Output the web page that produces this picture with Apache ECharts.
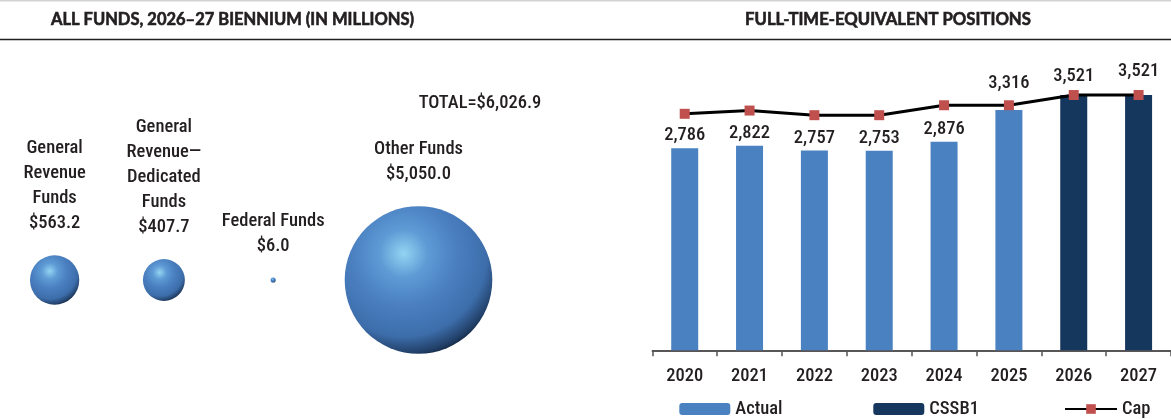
<!DOCTYPE html>
<html>
<head>
<meta charset="utf-8">
<script src="https://cdn.jsdelivr.net/npm/echarts@6/dist/echarts.min.js"></script>
<style>
  html, body { margin: 0; padding: 0; background: #ffffff; }
  #chart { width: 1171px; height: 419px; }
</style>
</head>
<body>
<div id="chart"></div>
<script>
// ---------------- DATA ----------------
const leftTitle = 'ALL FUNDS, 2026–27 BIENNIUM (IN MILLIONS)';
const rightTitle = 'FULL-TIME-EQUIVALENT POSITIONS';

const fundNames = ['General\nRevenue\nFunds', 'General\nRevenue—\nDedicated\nFunds', 'Federal Funds', 'Other Funds'];
const fundValues = [563.2, 407.7, 6.0, 5050.0];

const years = ['2020', '2021', '2022', '2023', '2024', '2025', '2026', '2027'];
const actualFte = [2786, 2822, 2757, 2753, 2876, 3316, '-', '-'];
const cssb1Fte = ['-', '-', '-', '-', '-', '-', 3521, 3521];
const capFte = [3262, 3307, 3243, 3243, 3380, 3380, 3521, 3521];

// ---------------- STYLE ----------------
const condensed = "'Roboto Condensed', 'Open Sans Condensed', sans-serif";
const condSize = 18.5;
const condWeight = 500;
const titleFont = "Lato, 'DejaVu Sans', sans-serif";
const textColor = '#231f20';
const actualColor = '#4a81c1';
const cssb1Color = '#15365d';
const capLineColor = '#000000';
const capMarkerColor = '#c0504d';
const labelLift = [3, 3, 3, 3, 3, 17, 9, 14];

const fmt = v => v.toLocaleString('en-US');
const fmtMoney = v => '$' + v.toLocaleString('en-US', { minimumFractionDigits: 1, maximumFractionDigits: 1 });
const total = fundValues.reduce((a, b) => a + b, 0);

const sphere = {
  type: 'radial', x: 0.4, y: 0.32, r: 0.74,
  colorStops: [
    { offset: 0, color: '#93d4f2' },
    { offset: 0.22, color: '#5e9bd5' },
    { offset: 0.48, color: '#4a7fc0' },
    { offset: 0.76, color: '#3d6eab' },
    { offset: 0.91, color: '#22416a' },
    { offset: 1, color: '#0c1828' }
  ]
};

const bubbleScale = 2.077;

function bubbleItems(idxs) {
  return idxs.map(i => ({
    value: [fundNames[i], 0, fundValues[i]],
    labelText: fundNames[i] + '\n' + fmtMoney(fundValues[i])
  }));
}
const bubbleLabel = {
  show: true,
  position: 'top',
  distance: 19,
  fontFamily: condensed,
  fontSize: condSize,
  fontWeight: condWeight,
  lineHeight: 25,
  color: textColor,
  align: 'center',
  formatter: p => p.data.labelText
};

const chart = echarts.init(document.getElementById('chart'), null, { renderer: 'canvas' });

const axisTextStyle = { fontFamily: condensed, fontSize: condSize, fontWeight: condWeight, color: textColor };
const titleStyle = { fill: textColor, stroke: textColor, lineWidth: 0.6, align: 'center', verticalAlign: 'middle' };

const option = {
  animation: false,
  backgroundColor: '#ffffff',
  textStyle: { fontFamily: condensed },
  graphic: [
    { type: 'rect', shape: { x: 0, y: 0, width: 1171, height: 1.6 }, style: { fill: '#d2d2d2' }, silent: true },
    { type: 'rect', shape: { x: 0, y: 38.7, width: 1171, height: 1.6 }, style: { fill: '#231f20' }, silent: true },
    { type: 'text', x: 232.5, y: 19.5, style: Object.assign({ text: leftTitle, font: 'bold 16.5px ' + titleFont }, titleStyle) },
    { type: 'text', x: 888, y: 19.5, style: Object.assign({ text: rightTitle, font: 'bold 16.7px ' + titleFont }, titleStyle) },
    { type: 'text', x: 480, y: 103, style: { text: 'TOTAL=' + fmtMoney(total), font: condWeight + ' ' + condSize + 'px ' + condensed, fill: textColor, align: 'center', verticalAlign: 'middle' } }
  ],
  grid: [
    { left: -17.2, width: 345, top: 180, height: 200 },
    { left: 360, width: 117, top: 180, height: 200 },
    { left: 652.3, width: 524, top: 60.3, height: 290 }
  ],
  xAxis: [
    { gridIndex: 0, type: 'category', data: fundNames.slice(0, 3), show: false },
    { gridIndex: 1, type: 'category', data: fundNames.slice(3), show: false },
    {
      gridIndex: 2, type: 'category', data: years,
      axisLine: { show: true, lineStyle: { color: '#231f20', width: 1.5 } },
      axisTick: { show: true, length: 6, lineStyle: { color: '#555', width: 1.5 } },
      axisLabel: Object.assign({ margin: 17, lineHeight: 19 }, axisTextStyle)
    }
  ],
  yAxis: [
    { gridIndex: 0, type: 'value', min: -1, max: 1, show: false },
    { gridIndex: 1, type: 'value', min: -1, max: 1, show: false },
    { gridIndex: 2, type: 'value', min: 0, max: 4000, show: false }
  ],
  legend: [
    { data: ['Actual'], left: 679.3, top: 399.5, itemWidth: 51, itemHeight: 12, textStyle: Object.assign({ lineHeight: 19 }, axisTextStyle), padding: 0 },
    { data: ['CSSB1'], left: 873.3, top: 399.5, itemWidth: 51, itemHeight: 12, textStyle: Object.assign({ lineHeight: 19 }, axisTextStyle), padding: 0 },
    { data: ['Cap'], left: 1064, top: 399.5, itemWidth: 52, itemHeight: 12, textStyle: Object.assign({ lineHeight: 19 }, axisTextStyle), padding: 0 }
  ],
  series: [
    {
      type: 'scatter', xAxisIndex: 0, yAxisIndex: 0,
      data: bubbleItems([0, 1, 2]),
      encode: { x: 0, y: 1 },
      symbolSize: v => bubbleScale * Math.sqrt(v[2]),
      itemStyle: { color: sphere, opacity: 1 },
      label: bubbleLabel,
      silent: true
    },
    {
      type: 'scatter', xAxisIndex: 1, yAxisIndex: 1,
      data: bubbleItems([3]),
      encode: { x: 0, y: 1 },
      symbolSize: v => bubbleScale * Math.sqrt(v[2]),
      itemStyle: { color: sphere, opacity: 1 },
      label: bubbleLabel,
      silent: true
    },
    {
      name: 'Actual', type: 'bar', xAxisIndex: 2, yAxisIndex: 2, stack: 'fte',
      barWidth: 27,
      itemStyle: { color: actualColor },
      data: actualFte.map((v, i) => ({ value: v, label: { distance: labelLift[i] } })),
      label: { show: true, position: 'top', fontFamily: condensed, fontSize: condSize, fontWeight: condWeight, color: textColor, formatter: p => fmt(p.value) }
    },
    {
      name: 'CSSB1', type: 'bar', xAxisIndex: 2, yAxisIndex: 2, stack: 'fte',
      barWidth: 27,
      itemStyle: { color: cssb1Color },
      data: cssb1Fte.map((v, i) => ({ value: v, label: { distance: labelLift[i] } })),
      label: { show: true, position: 'top', fontFamily: condensed, fontSize: condSize, fontWeight: condWeight, color: textColor, formatter: p => fmt(p.value) }
    },
    {
      name: 'Cap', type: 'line', xAxisIndex: 2, yAxisIndex: 2,
      data: capFte,
      symbol: 'rect', symbolSize: 10, showAllSymbol: true,
      lineStyle: { color: capLineColor, width: 3 },
      itemStyle: { color: capMarkerColor },
      z: 5
    }
  ]
};

chart.setOption(option);
</script>
</body>
</html>
